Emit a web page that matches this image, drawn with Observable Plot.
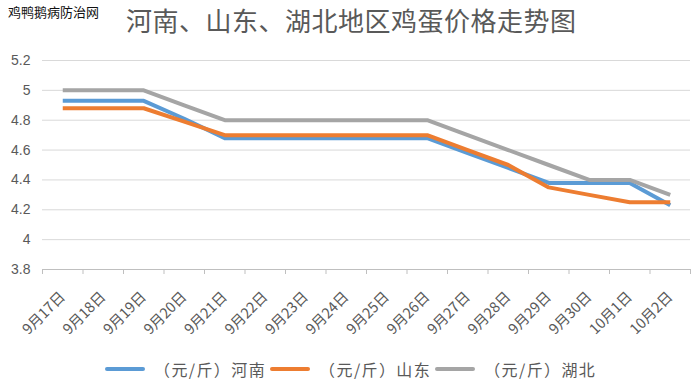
<!DOCTYPE html>
<html>
<head>
<meta charset="utf-8">
<script src="https://cdn.jsdelivr.net/npm/d3@7"></script>
<script src="https://cdn.jsdelivr.net/npm/@observablehq/plot@0.6"></script>
<style>
  html, body { margin: 0; padding: 0; background: #fff; }
  #wrap { position: relative; width: 691px; height: 384px; overflow: hidden; font-family: "Noto Sans CJK SC", "Noto Sans", sans-serif; }
  #wm { position: absolute; left: 8px; top: 2px; font-size: 13px; color: #111; }
  #title { position: absolute; left: 126px; top: 1px; font-size: 26px; color: #595959; letter-spacing: 0.5px; white-space: nowrap; }
  #chart { position: absolute; left: 0; top: 0; }
  #legend { position: absolute; left: 105px; top: 357px; display: flex; align-items: center; font-size: 16px; color: #595959; letter-spacing: 1.4px; white-space: nowrap; }
  .item { display: flex; align-items: center; margin-right: 4px; }
  .sw { width: 40px; height: 4px; border-radius: 2px; margin-right: 9px; }
</style>
</head>
<body>
<div id="wrap">
  <div id="chart"></div>
  <div id="wm">鸡鸭鹅病防治网</div>
  <div id="title">河南、山东、湖北地区鸡蛋价格走势图</div>
  <div id="legend"></div>
</div>
<script>
const dates = ["9月17日","9月18日","9月19日","9月20日","9月21日","9月22日","9月23日","9月24日","9月25日","9月26日","9月27日","9月28日","9月29日","9月30日","10月1日","10月2日"];
const henan    = [4.93,4.93,4.93,4.81,4.68,4.68,4.68,4.68,4.68,4.68,4.58,4.48,4.38,4.38,4.38,4.23];
const shandong = [4.88,4.88,4.88,4.79,4.70,4.70,4.70,4.70,4.70,4.70,4.60,4.50,4.35,4.30,4.25,4.25];
const hubei    = [5.00,5.00,5.00,4.90,4.80,4.80,4.80,4.80,4.80,4.80,4.70,4.60,4.50,4.40,4.40,4.30];
const seriesNames = ["（元/斤）河南","（元/斤）山东","（元/斤）湖北"];
const seriesColors = ["#5B9BD5","#ED7D31","#A5A5A5"];
const yTicks = [3.8, 4, 4.2, 4.4, 4.6, 4.8, 5, 5.2];

const seriesValues = [henan, shandong, hubei];
const rows = [];
seriesValues.forEach((vals, s) => vals.forEach((v, i) => rows.push({i, v, s: seriesNames[s]})));
const idx = dates.map((d, i) => i);
const bounds = d3.range(dates.length + 1).map(i => i - 0.5);

const chart = Plot.plot({
  width: 691,
  height: 340,
  marginLeft: 42,
  marginRight: 1,
  marginTop: 60,
  marginBottom: 71,
  style: {background: "transparent", fontFamily: "'Noto Sans CJK SC', sans-serif"},
  x: {type: "linear", domain: [-0.5, dates.length - 0.5], axis: null},
  y: {domain: [3.8, 5.2], axis: null},
  color: {domain: seriesNames, range: seriesColors},
  marks: [
    Plot.ruleY(yTicks.slice(1), {stroke: "#d9d9d9", strokeWidth: 1}),
    Plot.ruleY([3.8], {stroke: "#bfbfbf", strokeWidth: 1}),
    Plot.axisX({ticks: bounds, tickSize: 5, tickFormat: () => "", stroke: "#bfbfbf", label: null}),
    Plot.axisX({ticks: idx, tickSize: 0, tickPadding: 25, tickRotate: -45, tickFormat: i => dates[i], fontSize: 14.5, fill: "#595959", label: null}),
    Plot.axisY({ticks: yTicks, tickSize: 0, tickPadding: 12, tickFormat: d => String(+d.toFixed(1)), fontSize: 14, fill: "#595959", fontFamily: "'Liberation Sans', sans-serif", label: null}),
    Plot.line(rows, {x: "i", y: "v", z: "s", stroke: "s", strokeWidth: 4, strokeLinejoin: "round", strokeLinecap: "butt"})
  ]
});
document.getElementById("chart").appendChild(chart);

const legend = document.getElementById("legend");
seriesNames.forEach((n, k) => {
  const it = document.createElement("div");
  it.className = "item";
  it.innerHTML = `<span class="sw" style="background:${seriesColors[k]}"></span><span>${n}</span>`;
  legend.appendChild(it);
});
</script>
</body>
</html>
